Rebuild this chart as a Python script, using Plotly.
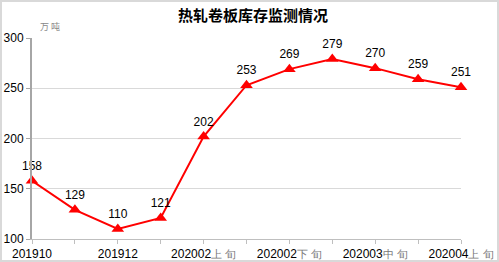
import plotly.graph_objects as go

categories = ["201910", "201911", "201912", "202001", "202002上旬", "202002中旬",
              "202002下旬", "202003上旬", "202003中旬", "202003下旬", "202004上旬"]
values = [158, 129, 110, 121, 202, 253, 269, 279, 270, 259, 251]
shown_ticks = ["201910", "", "201912", "", "202002<span style='color:#777;font-size:11px'>上 旬</span>", "",
               "202002<span style='color:#777;font-size:11px'>下 旬</span>", "",
               "202003<span style='color:#777;font-size:11px'>中 旬</span>", "",
               "202004<span style='color:#777;font-size:11px'>上 旬</span>"]
y_ticks = [100, 150, 200, 250, 300]

W, H = 499, 262
ml, mr, mt, mb = 32, 38, 38, 23
pw, ph = W - ml - mr, H - mt - mb

fig = go.Figure()
fig.add_trace(go.Scatter(
    x=list(range(len(categories))), y=values,
    mode="lines+markers+text",
    line=dict(color="#ff0000", width=2),
    marker=dict(symbol="triangle-up", size=11, color="#ff0000"),
    text=[str(v) for v in values],
    textposition="top center",
    textfont=dict(family="Arial, Liberation Sans", size=12, color="#000"),
    cliponaxis=False,
    hoverinfo="skip",
))

fig.update_layout(
    width=W, height=H,
    margin=dict(l=ml, r=mr, t=mt, b=mb, autoexpand=False),
    paper_bgcolor="white", plot_bgcolor="white",
    showlegend=False,
    title=dict(text="<b>热轧卷板库存监测情况</b>", x=0.507, xanchor="center", y=0.94, yanchor="middle",
               font=dict(family="Noto Sans CJK SC", size=15, color="#000")),
    xaxis=dict(
        range=[0, len(categories) - 1], automargin=False,
        tickmode="array", tickvals=list(range(len(categories))), ticktext=shown_ticks,
        ticks="outside", ticklen=4, tickcolor="#bfbfbf", tickwidth=1,
        showline=True, linecolor="#bfbfbf", linewidth=1,
        showgrid=False, zeroline=False,
        tickfont=dict(family="Arial, Liberation Sans", size=12, color="#000"),
        tickangle=0,
    ),
    yaxis=dict(
        range=[100, 300], tickmode="array", tickvals=y_ticks, automargin=False,
        ticks="outside", ticklen=4, tickcolor="#a6a6a6",
        showline=True, linecolor="#a6a6a6", linewidth=2,
        showgrid=True, gridcolor="#d9d9d9", gridwidth=1, zeroline=False,
        tickfont=dict(family="Arial, Liberation Sans", size=12, color="#000"),
    ),
    shapes=[dict(type="rect", xref="paper", yref="paper",
                 x0=-(ml - 1) / pw, x1=(pw + mr - 1) / pw,
                 y0=-(mb - 1) / ph, y1=(ph + mt - 1) / ph,
                 line=dict(color="#d9d9d9", width=2), layer="below")],
    annotations=[dict(text="万 吨", xref="paper", yref="paper", x=18 / pw, y=(ph + 12) / ph,
                      xanchor="center", yanchor="middle", showarrow=False,
                      font=dict(family="Noto Sans CJK SC", size=9, color="#888"))],
)

fig.write_html("out.html")
